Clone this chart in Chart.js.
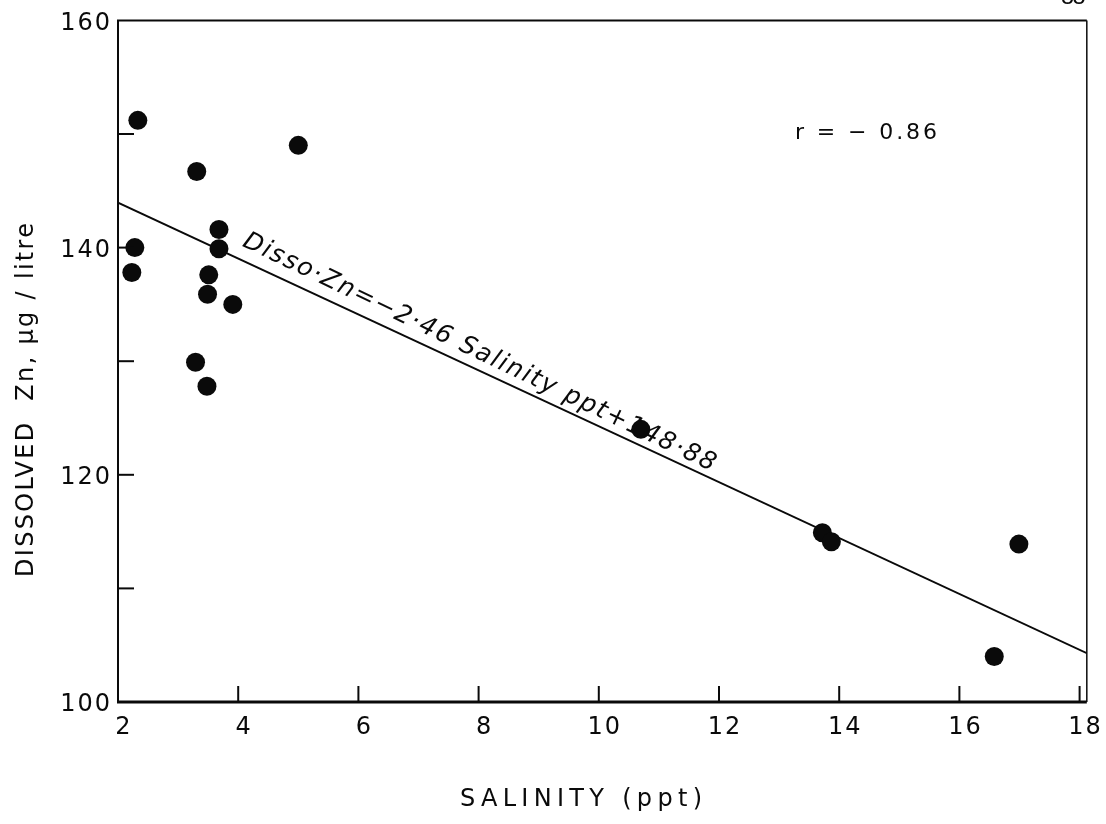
<!DOCTYPE html>
<html>
<head>
<meta charset="utf-8">
<script src="https://cdn.jsdelivr.net/npm/chart.js@4.4.1/dist/chart.umd.min.js"></script>
<style>
  html, body { margin: 0; padding: 0; background: #fff; }
  #wrap { width: 1106px; height: 824px; }
</style>
</head>
<body>
<div id="wrap"><canvas id="c" width="1106" height="824"></canvas></div>
<script>
// Salinity (ppt) and dissolved zinc (µg/litre) for each sample
const salinity    = [2.33, 3.31, 5.00, 2.28, 2.23, 3.68, 3.68, 3.51, 3.49, 3.91, 3.29, 3.48, 10.70, 13.72, 13.87, 16.99, 16.58];
const dissolvedZn = [151.2, 146.7, 149.0, 140.0, 137.8, 141.6, 139.9, 137.6, 135.9, 135.0, 129.9, 127.8, 124.0, 114.9, 114.1, 113.9, 104.0];

// Regression: Disso·Zn = −2·46 Salinity + 148·88, evaluated at the ends of the x range
const fitSalinity = [2, 18.12];
const fitZn       = [143.96, 104.30];

// Axis ticks
const xTicks = [2, 4, 6, 8, 10, 12, 14, 16, 18];
const yTicks = [100, 110, 120, 130, 140, 150, 160];
const yTickLabels = [100, 120, 140, 160];

const equationText = 'Disso·Zn=−2·46 Salinity ppt+148·88';
const rText = 'r = − 0.86';
const xTitle = 'SALINITY (ppt)';
const yTitle = 'DISSOLVED  Zn, μg / litre';

const INK = '#0a0a0a';
const FONT = "'DejaVu Sans', 'Liberation Sans', sans-serif";

function drawSpaced(ctx, text, x, y, targetWidth) {
  ctx.letterSpacing = '0px';
  const w = ctx.measureText(text).width;
  const n = Math.max(1, text.length - 1);
  const sp = (targetWidth - w) / n;
  ctx.letterSpacing = sp + 'px';
  ctx.fillText(text, x, y);
  ctx.letterSpacing = '0px';
}

// slightly open lettering for the tick numbers
const spacing = {
  id: 'spacing',
  beforeDraw(chart) { chart.ctx.letterSpacing = '2px'; }
};

const frame = {
  id: 'frame',
  afterDatasetsDraw(chart) {
    const { ctx, chartArea: a, scales } = chart;
    const xs = scales.x, ys = scales.y;
    ctx.save();
    ctx.letterSpacing = '0px';
    ctx.strokeStyle = INK;
    ctx.lineCap = 'butt';
    // box
    ctx.lineWidth = 2;
    ctx.beginPath();
    ctx.moveTo(a.left, a.bottom); ctx.lineTo(a.left, a.top); ctx.lineTo(a.right, a.top);
    ctx.stroke();
    ctx.lineWidth = 1.5;
    ctx.beginPath(); ctx.moveTo(a.right, a.top); ctx.lineTo(a.right, a.bottom); ctx.stroke();
    ctx.lineWidth = 3;
    ctx.beginPath(); ctx.moveTo(a.left - 1, a.bottom); ctx.lineTo(a.right, a.bottom); ctx.stroke();

    // inward tick marks
    ctx.lineWidth = 2;
    xTicks.forEach(v => {
      if (v === xTicks[0]) return;
      const px = xs.getPixelForValue(v);
      ctx.beginPath(); ctx.moveTo(px, a.bottom); ctx.lineTo(px, a.bottom - 16); ctx.stroke();
    });
    yTicks.forEach(v => {
      if (v === yTicks[0] || v === yTicks[yTicks.length - 1]) return;
      const py = ys.getPixelForValue(v);
      ctx.beginPath(); ctx.moveTo(a.left, py); ctx.lineTo(a.left + 16, py); ctx.stroke();
    });

    // equation written along the regression line
    const x0 = xs.getPixelForValue(fitSalinity[0]), y0 = ys.getPixelForValue(fitZn[0]);
    const x1 = xs.getPixelForValue(fitSalinity[1]), y1 = ys.getPixelForValue(fitZn[1]);
    const ang = Math.atan2(y1 - y0, x1 - x0) + 0.012;
    const startPx = 236;
    const t = (startPx - x0) / (x1 - x0);
    const lx = startPx, ly = y0 + t * (y1 - y0);
    const off = 13;
    ctx.save();
    ctx.translate(lx + Math.sin(ang) * off, ly - Math.cos(ang) * off);
    ctx.rotate(ang);
    ctx.fillStyle = INK;
    ctx.font = 'oblique 25px ' + FONT;
    ctx.textBaseline = 'alphabetic';
    ctx.textAlign = 'left';
    drawSpaced(ctx, equationText, 0, 0, 521);
    ctx.restore();

    // correlation coefficient
    ctx.fillStyle = INK;
    ctx.font = '22px ' + FONT;
    ctx.textAlign = 'left';
    ctx.textBaseline = 'alphabetic';
    drawSpaced(ctx, rText, 795, 139, 142);

    // axis titles
    ctx.font = '24px ' + FONT;
    ctx.textAlign = 'left';
    const xw = 242;
    drawSpaced(ctx, xTitle, 581 - xw / 2, 806, xw);

    ctx.save();
    ctx.translate(33, 400);
    ctx.rotate(-Math.PI / 2);
    const yw = 354;
    drawSpaced(ctx, yTitle, -yw / 2, 0, yw);
    ctx.restore();

    // fragment of the caption above the figure
    ctx.font = '22px ' + FONT;
    ctx.textAlign = 'left';
    drawSpaced(ctx, '− 88', 1040, 4, 46);
    ctx.restore();
  }
};

new Chart(document.getElementById('c'), {
  type: 'scatter',
  data: {
    datasets: [
      {
        type: 'line',
        data: fitSalinity.map((x, i) => ({ x, y: fitZn[i] })),
        borderColor: INK,
        borderWidth: 2,
        pointRadius: 0,
        fill: false,
        order: 2
      },
      {
        data: salinity.map((x, i) => ({ x, y: dissolvedZn[i] })),
        backgroundColor: INK,
        borderColor: INK,
        borderWidth: 0,
        pointRadius: 9.5,
        pointHoverRadius: 9.5,
        order: 1
      }
    ]
  },
  options: {
    responsive: false,
    animation: false,
    devicePixelRatio: 1,
    layout: { padding: { top: 17, right: 17, left: 0, bottom: 0 } },
    plugins: { legend: { display: false }, tooltip: { enabled: false } },
    scales: {
      x: {
        type: 'linear',
        min: 2,
        max: 18.12,
        grid: { display: false, drawTicks: false },
        border: { display: false },
        afterBuildTicks: s => { s.ticks = xTicks.map(v => ({ value: v })); },
        afterFit: s => { s.height = 122; },
        ticks: {
          color: INK,
          font: { family: FONT, size: 24 },
          padding: 11,
          labelOffset: 6,
          maxRotation: 0,
          autoSkip: false,
          callback: v => String(v)
        }
      },
      y: {
        type: 'linear',
        min: 100,
        max: 160,
        grid: { display: false, drawTicks: false },
        border: { display: false },
        afterBuildTicks: s => { s.ticks = yTicks.map(v => ({ value: v })); },
        afterFit: s => { s.width = 118; },
        ticks: {
          color: INK,
          font: { family: FONT, size: 24 },
          padding: 6,
          labelOffset: 3,
          autoSkip: false,
          callback: v => (yTickLabels.includes(v) ? String(v) : '')
        }
      }
    }
  },
  plugins: [spacing, frame]
});
</script>
</body>
</html>
